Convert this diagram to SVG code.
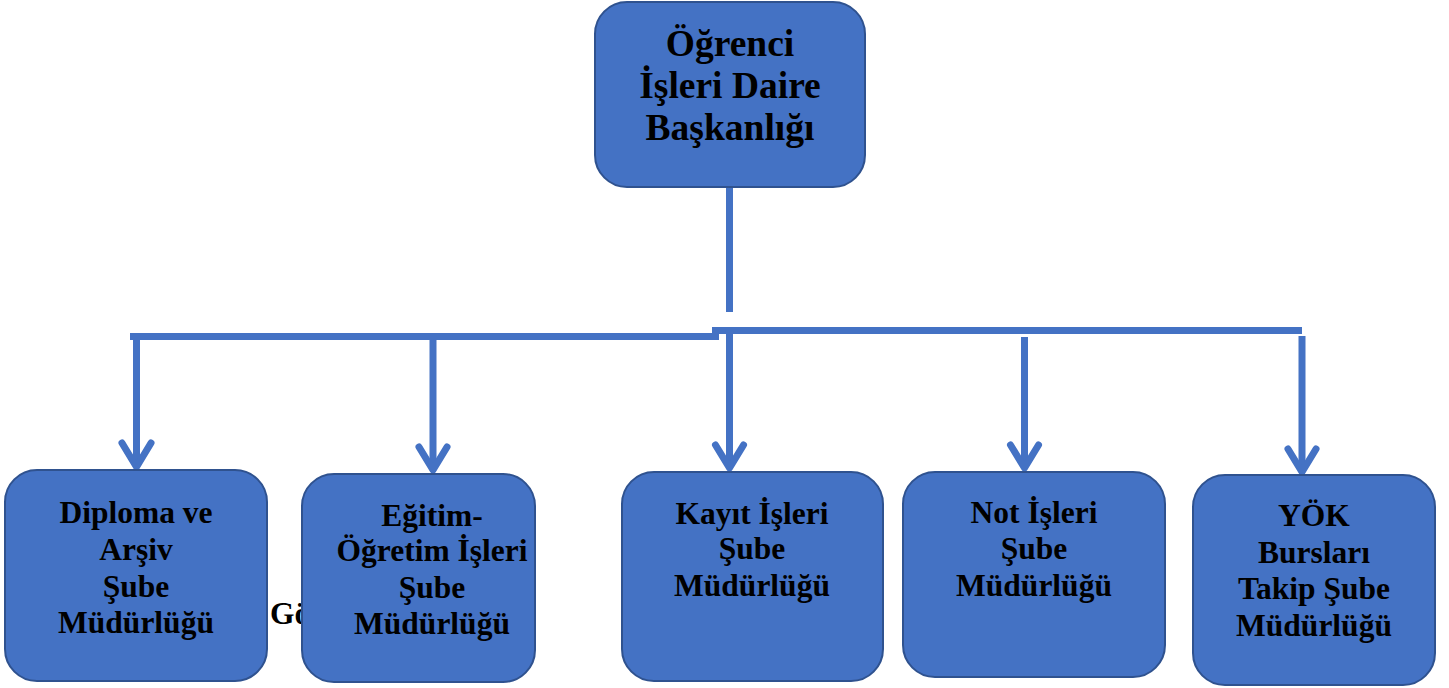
<svg xmlns="http://www.w3.org/2000/svg" width="1449" height="688" viewBox="0 0 1449 688">
<style>
.box{fill:#4472C4;stroke:#2F528F;stroke-width:2}
.t{font-family:"Liberation Serif","Times New Roman",serif;font-weight:bold;fill:#000;text-anchor:middle}
.big{font-size:37.5px}
.sm{font-size:31.5px}
.ln{stroke:#4472C4;stroke-width:7;fill:none}
.ar{stroke:#4472C4;stroke-width:7;fill:none;stroke-linecap:round;stroke-linejoin:round}
</style>
<rect width="1449" height="688" fill="#fff"/>
<g id="connectors">
<line class="ln" x1="729.5" y1="187" x2="729.5" y2="312"/>
<line class="ln" x1="130" y1="336.5" x2="719" y2="336.5"/>
<line class="ln" x1="712" y1="330.5" x2="1302" y2="330.5"/>
<line class="ln" x1="136.5" y1="336" x2="136.5" y2="466"/>
<polyline class="ar" points="122,443 136.5,467 151,443"/>
<line class="ln" x1="433" y1="336" x2="433" y2="469"/>
<polyline class="ar" points="419,447 433,470 447,447"/>
<line class="ln" x1="729.5" y1="334" x2="729.5" y2="467"/>
<polyline class="ar" points="715.5,445 729.5,468 743.5,445"/>
<line class="ln" x1="1024.5" y1="337" x2="1024.5" y2="467"/>
<polyline class="ar" points="1010.5,445 1024.5,468 1038.5,445"/>
<line class="ln" x1="1302" y1="336" x2="1302" y2="471"/>
<polyline class="ar" points="1288,449 1302,472 1316,449"/>
</g>
<g id="root">
<rect class="box" x="595" y="2" width="270" height="185" rx="32"/>
<text class="t big" x="730" y="56">Öğrenci</text>
<text class="t big" x="730" y="98">İşleri Daire</text>
<text class="t big" x="730" y="140">Başkanlığı</text>
</g>
<g id="n1">
<rect class="box" x="5" y="470" width="262" height="211" rx="32"/>
<text class="t sm" x="136" y="523">Diploma ve</text>
<text class="t sm" x="136" y="560">Arşiv</text>
<text class="t sm" x="136" y="597">Şube</text>
<text class="t sm" x="136" y="633">Müdürlüğü</text>
</g>
<g id="hidden-text">
<text class="t sm" x="270" y="624" style="text-anchor:start">Gö</text>
</g>
<g id="n2">
<rect class="box" x="302" y="474" width="233" height="208" rx="32"/>
<text class="t sm" x="432" y="526">Eğitim-</text>
<text class="t sm" x="432" y="561">Öğretim İşleri</text>
<text class="t sm" x="432" y="598">Şube</text>
<text class="t sm" x="432" y="634">Müdürlüğü</text>
</g>
<g id="n3">
<rect class="box" x="622" y="472" width="261" height="209" rx="32"/>
<text class="t sm" x="752" y="524">Kayıt İşleri</text>
<text class="t sm" x="752" y="559">Şube</text>
<text class="t sm" x="752" y="596">Müdürlüğü</text>
</g>
<g id="n4">
<rect class="box" x="903" y="472" width="262" height="205" rx="32"/>
<text class="t sm" x="1034" y="523">Not İşleri</text>
<text class="t sm" x="1034" y="559">Şube</text>
<text class="t sm" x="1034" y="596">Müdürlüğü</text>
</g>
<g id="n5">
<rect class="box" x="1193" y="475" width="242" height="210" rx="32"/>
<text class="t sm" x="1314" y="526">YÖK</text>
<text class="t sm" x="1314" y="563">Bursları</text>
<text class="t sm" x="1314" y="599">Takip Şube</text>
<text class="t sm" x="1314" y="636">Müdürlüğü</text>
</g>
</svg>
